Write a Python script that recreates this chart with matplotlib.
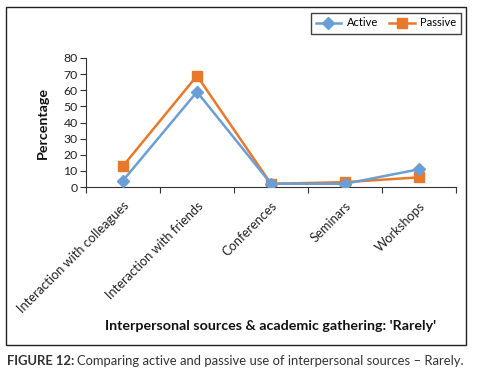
import matplotlib
matplotlib.use("Agg")
import matplotlib.pyplot as plt
from matplotlib.patches import Rectangle

plt.rcParams['font.family'] = ['Lato', 'DejaVu Sans']

categories = ["Interaction with colleagues", "Interaction with friends",
              "Conferences", "Seminars", "Workshops"]
active = [4, 59, 2, 2, 11]
passive = [13, 69, 2, 3, 6]
yticks = [0, 10, 20, 30, 40, 50, 60, 70, 80]

W, H = 486, 380
fig = plt.figure(figsize=(W / 100, H / 100), dpi=100)

# outer frame
fig.patches.append(Rectangle((6 / W, 1 - 345 / H), 460 / W, 338 / H,
                             transform=fig.transFigure, fill=False,
                             edgecolor='#222222', linewidth=1.0))

ax = fig.add_axes([86 / W, 1 - 187 / H, 370 / W, 129 / H])
x = list(range(len(categories)))
blue = '#6A9FD6'
orange = '#E8792A'
ax.plot(x, active, color=blue, linewidth=1.8, marker='D', markersize=6.5,
        label='Active', zorder=3)
ax.plot(x, passive, color=orange, linewidth=1.8, marker='s', markersize=7.5,
        label='Passive', zorder=2)

ax.set_xlim(-0.5, len(categories) - 0.5)
ax.set_ylim(0, 80)
ax.set_yticks(yticks)
ax.set_yticklabels([str(v) for v in yticks], fontsize=8.8, color='#222222')
ax.set_xticks([i - 0.5 for i in range(len(categories) + 1)])
ax.set_xticklabels([])
ax.tick_params(axis='x', direction='out', length=4, width=0.8, color='#333333')
ax.tick_params(axis='y', direction='out', length=4, width=0.8, color='#333333', pad=2)
for s in ['top', 'right']:
    ax.spines[s].set_visible(False)
for s in ['left', 'bottom']:
    ax.spines[s].set_color('#333333')
    ax.spines[s].set_linewidth(0.8)

for i, c in enumerate(categories):
    ax.annotate(c, xy=(i, 0), xycoords='data', xytext=(0, -9),
                textcoords='offset points', rotation=45, ha='right', va='top',
                rotation_mode='anchor', fontsize=9.3, color='#222222')

fig.text(43 / W, 1 - 123 / H, 'Percentage', rotation=90, ha='center',
         va='center', fontsize=10.3, fontweight='bold', color='#111111')
fig.text(271 / W, 1 - 326 / H, "Interpersonal sources & academic gathering: 'Rarely'",
         ha='center', va='center', fontsize=10.3, fontweight='bold', color='#111111')

leg = fig.legend(loc='center', bbox_to_anchor=(386 / W, 1 - 23 / H), ncol=2,
                 fontsize=8, frameon=True, fancybox=False, edgecolor='#111111',
                 handlelength=2.3, columnspacing=1.0, handletextpad=0.5,
                 borderpad=0.45)
leg.get_frame().set_linewidth(1.0)

# caption
renderer = fig.canvas.get_renderer()
t1 = fig.text(7 / W, 1 - 361 / H, 'FIGURE 12:', ha='left', va='center',
              fontsize=9.4, fontweight='bold', color='#333333')
bb = t1.get_window_extent(renderer=renderer)
fig.text((bb.x1 + 3) / W, 1 - 361 / H,
         'Comparing active and passive use of interpersonal sources \u2013 Rarely.',
         ha='left', va='center', fontsize=9.4, color='#333333')

fig.savefig('out.png', dpi=100)
